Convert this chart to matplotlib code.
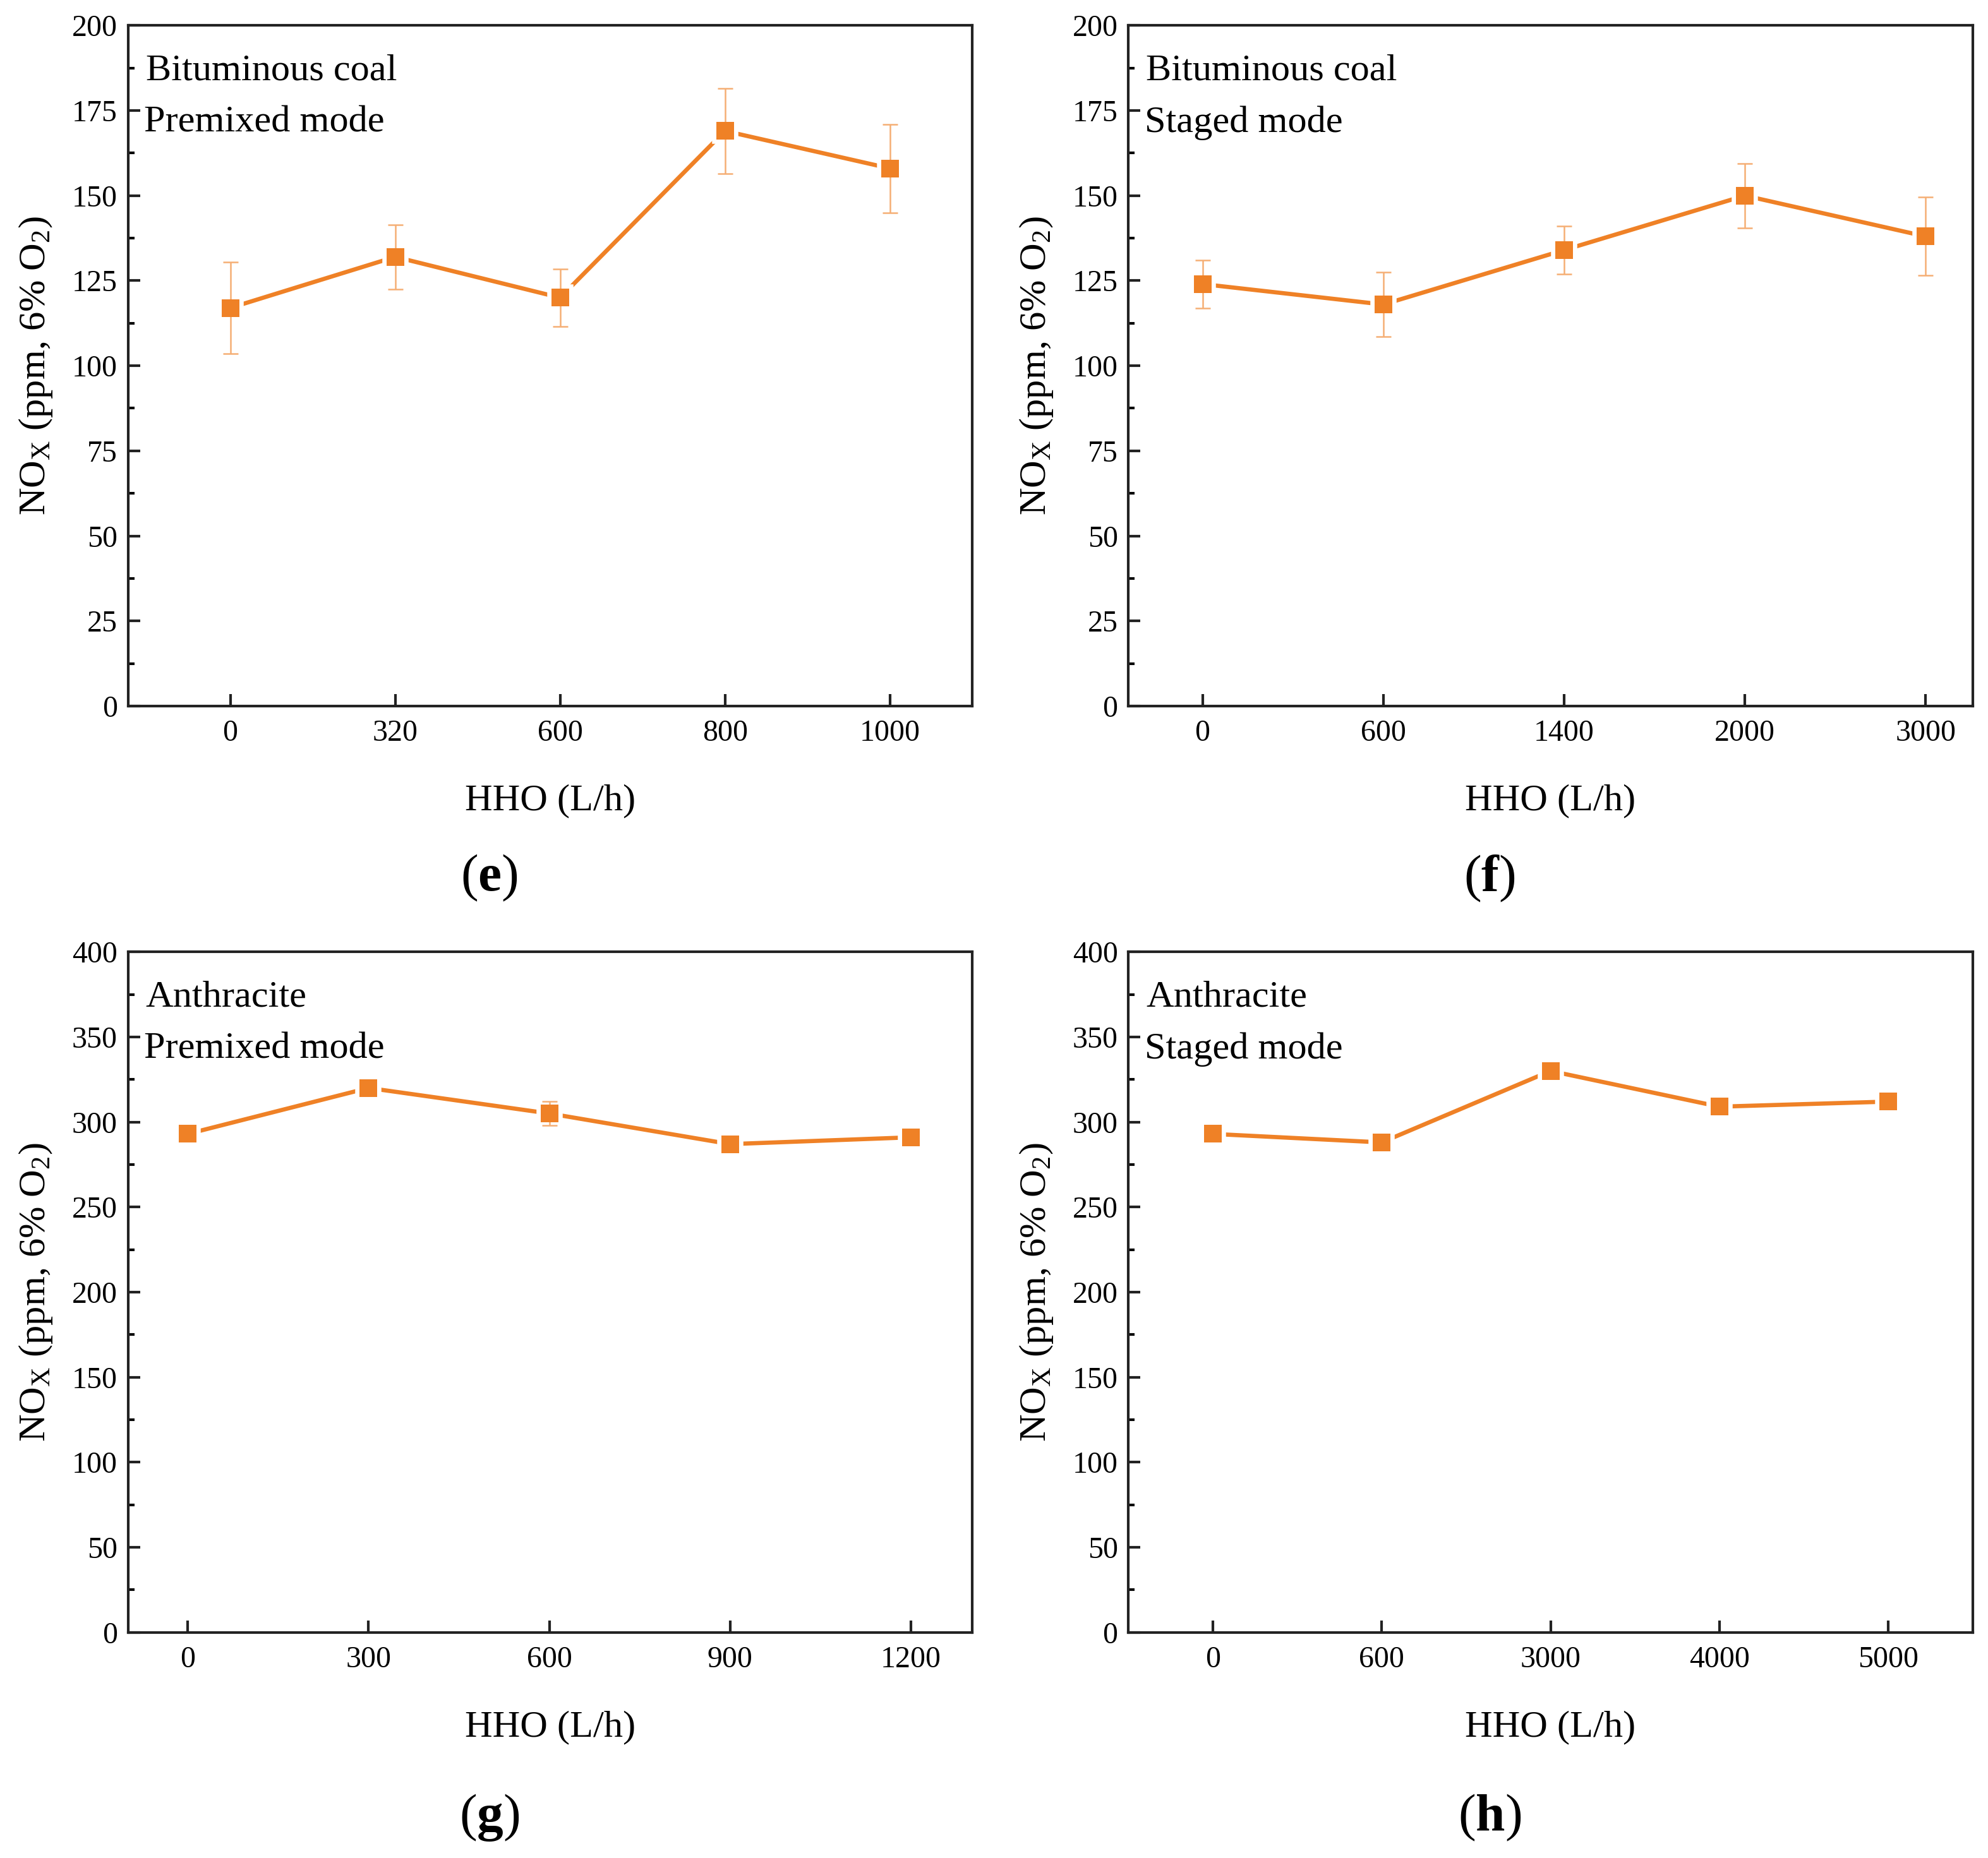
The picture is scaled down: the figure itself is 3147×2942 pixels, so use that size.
import matplotlib
matplotlib.use("Agg")
import matplotlib.pyplot as plt
from matplotlib.ticker import MultipleLocator, AutoMinorLocator

plt.rcParams["font.family"] = ["Liberation Serif", "DejaVu Serif"]
plt.rcParams["mathtext.fontset"] = "custom"
plt.rcParams["mathtext.rm"] = "Liberation Serif"
plt.rcParams["mathtext.it"] = "Liberation Serif:italic"
plt.rcParams["mathtext.bf"] = "Liberation Serif:bold"

# --- data ---
hho_e = ["0", "320", "600", "800", "1000"]
nox_e = [117, 132, 120, 169, 158]
err_e = [13.5, 9.5, 8.5, 12.5, 13]

hho_f = ["0", "600", "1400", "2000", "3000"]
nox_f = [124, 118, 134, 150, 138]
err_f = [7, 9.5, 7, 9.5, 11.5]

hho_g = ["0", "300", "600", "900", "1200"]
nox_g = [293, 320, 305, 287, 291]
err_g = [2, 3, 7, 2, 2]

hho_h = ["0", "600", "3000", "4000", "5000"]
nox_h = [293, 288, 330, 309, 312]
err_h = [2, 2, 2, 2, 2]

ORANGE = "#EF8126"
ERR = "#F5AE74"


def draw_panel(fig, rect, cats, vals, errs, ymax, ystep, xlim, lines, letter, letter_y):
    ax = fig.add_axes(rect)
    x = list(range(len(cats)))

    # line with a small gap around markers (origin style)
    ax.plot(x, vals, color=ORANGE, lw=1.6, marker="s", ms=8.2,
            mfc=ORANGE, mec="white", mew=1.8, zorder=2)
    ax.errorbar(x, vals, yerr=errs, fmt="none", ecolor=ERR, elinewidth=0.6,
                capsize=2.8, capthick=0.6, zorder=3)
    ax.plot(x, vals, ls="none", marker="s", ms=6.6, mfc=ORANGE, mec=ORANGE,
            mew=0, zorder=4)

    ax.set_xlim(*xlim)
    ax.set_ylim(0, ymax)
    ax.set_xticks(x)
    ax.set_xticklabels(cats)
    ax.yaxis.set_major_locator(MultipleLocator(ystep))
    ax.yaxis.set_minor_locator(AutoMinorLocator(2))
    ax.tick_params(axis="both", which="major", direction="in", length=4.5,
                   width=1.0, labelsize=11.5, color="#222222")
    ax.tick_params(axis="y", which="major", pad=4)
    ax.tick_params(axis="x", which="major", pad=5)
    ax.tick_params(axis="y", which="minor", direction="in", length=2.3, width=1.0)
    ax.tick_params(axis="x", which="minor", bottom=False)
    for sp in ax.spines.values():
        sp.set_linewidth(1.0)
        sp.set_color("#222222")

    ax.text(0.021, 0.933, lines[0], transform=ax.transAxes, fontsize=14.5,
            ha="left", va="center")
    ax.text(0.019, 0.857, lines[1], transform=ax.transAxes, fontsize=14.5,
            ha="left", va="center")

    ax.text(0.5, -0.14, "HHO (L/h)", transform=ax.transAxes, fontsize=14.5,
            ha="center", va="center")
    ax.text(-0.109, 0.5, r"NO$_{\mathrm{X}}$ (ppm, 6% O$_{2}$)",
            transform=ax.transAxes, fontsize=14.5, rotation=90,
            ha="center", va="center")
    ax.text(0.428, letter_y, "($\\mathbf{%s}$)" % letter, transform=ax.transAxes,
            fontsize=20, ha="center", va="center")
    return ax


fig = plt.figure(figsize=(3147 / 300, 2942 / 300), dpi=300)

w, h = 0.4247, 0.3663
draw_panel(fig, [0.0644, 0.620, w, h], hho_e, nox_e, err_e, 200, 25,
           (-0.62, 4.5), ["Bituminous coal", "Premixed mode"], "e", -0.253)
draw_panel(fig, [0.5676, 0.620, w, h], hho_f, nox_f, err_f, 200, 25,
           (-0.41, 4.26), ["Bituminous coal", "Staged mode"], "f", -0.253)
draw_panel(fig, [0.0644, 0.1214, w, h], hho_g, nox_g, err_g, 400, 50,
           (-0.33, 4.34), ["Anthracite", "Premixed mode"], "g", -0.272)
draw_panel(fig, [0.5676, 0.1214, w, h], hho_h, nox_h, err_h, 400, 50,
           (-0.5, 4.5), ["Anthracite", "Staged mode"], "h", -0.272)

fig.savefig("out.png", dpi=300)
